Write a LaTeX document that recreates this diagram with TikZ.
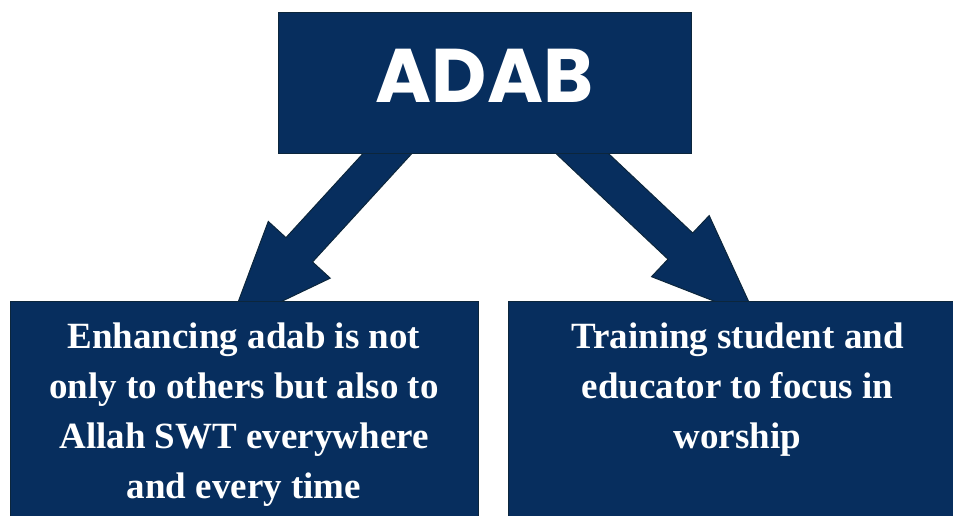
\documentclass[tikz,border=0pt]{standalone}
\usepackage{fontspec}
\setmainfont{Liberation Serif}
\newfontfamily\adabfont{Poppins}
\usetikzlibrary{calc, positioning, backgrounds}
\definecolor{adabblue}{RGB}{7,46,94}
\definecolor{adabedge}{RGB}{12,38,60}

\begin{document}
\begin{tikzpicture}[x=1pt, y=1pt,
  box/.style={shape=rectangle, draw=adabedge, fill=adabblue, line width=1pt},
  boxtext/.style={text=white, align=center, inner sep=0pt, font=\bfseries\fontsize{37}{50}\selectfont},
  arrowfill/.style={draw=adabedge, fill=adabblue, line width=1pt, line join=miter}]
\useasboundingbox (0,0) rectangle (953,515);
\clip (0,0) rectangle (953,515);
\node[box, minimum width=413pt, minimum height=141pt, text=white, text depth=15pt, font=\adabfont\bfseries\fontsize{76}{80}\selectfont] (adab) at (484.5,431.5) {ADAB};
\node[box, minimum width=468pt, minimum height=240pt] (others) at (244,94) {};
\node[box, minimum width=459pt, minimum height=240pt] (worship) at (737.5,94) {};
\node[boxtext, below=22pt of others.north] (otherstext) {Enhancing adab is not\\only to others but also to\\Allah SWT everywhere\\and every time};
\node[boxtext, below=22pt of worship.north] (worshiptext) {Training student and\\educator to focus in\\worship};
% block arrows behind the boxes
\begin{scope}[on background layer]
\coordinate (lfrom) at ($(adab.south)+(-48.5,54)$);
\coordinate (lto) at ($(others.north)+(-15,-26)$);
\coordinate (rfrom) at ($(adab.south)+(41.5,54)$);
\coordinate (rto) at ($(worship.north)+(18.5,-17)$);
\foreach \s/\t in {lfrom/lto, rfrom/rto}{
  \coordinate (hb) at ($(\t)!104pt!(\s)$);
  \draw[arrowfill] ($(\s)!18pt!90:(\t)$) -- ($(hb)!18pt!90:(\t)$) -- ($(hb)!42pt!90:(\t)$) -- (\t)
    -- ($(hb)!42pt!-90:(\t)$) -- ($(hb)!18pt!-90:(\t)$) -- ($(\s)!18pt!-90:(\t)$) -- cycle;
}
\end{scope}
\end{tikzpicture}
\end{document}
